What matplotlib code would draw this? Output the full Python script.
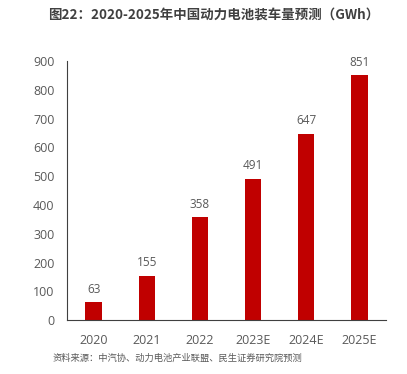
from matplotlib import pyplot as plt
import matplotlib

matplotlib.rcParams['font.family'] = ['Open Sans', 'Noto Sans CJK SC', 'DejaVu Sans']

years = ['2020', '2021', '2022', '2023E', '2024E', '2025E']
values = [63, 155, 358, 491, 647, 851]

fig = plt.figure(figsize=(4.07, 3.74), dpi=100)
ax = fig.add_axes([0.165, 0.144, 0.783, 0.693])

ax.bar(range(len(years)), values, width=0.31, color='#C00000')
for i, v in enumerate(values):
    ax.text(i, v + 22, str(v), ha='center', va='bottom', fontsize=8.5, color='#595959')

ax.set_xlim(-0.5, len(years) - 0.5)
ax.set_ylim(0, 900)
ax.set_yticks(range(0, 901, 100))
ax.set_xticks(range(len(years)))
ax.set_xticklabels(years)
ax.tick_params(axis='both', length=0, labelsize=9, labelcolor='#595959')
ax.tick_params(axis='x', pad=10)
ax.tick_params(axis='y', pad=9)

for s in ['top', 'right']:
    ax.spines[s].set_visible(False)
for s in ['left', 'bottom']:
    ax.spines[s].set_color('#404040')
    ax.spines[s].set_linewidth(0.8)

fig.text(0.525, 0.96, '图22：2020-2025年中国动力电池装车量预测（GWh）', ha='center', va='center',
         family=['Noto Sans CJK SC', 'DejaVu Sans'],
         fontsize=9.7, fontweight='bold', color='#404040')
fig.text(0.13, 0.043, '资料来源：中汽协、动力电池产业联盟、民生证券研究院预测', ha='left', va='center',
         family=['Noto Sans CJK SC', 'DejaVu Sans'],
         fontsize=6.7, color='#595959')

plt.savefig('out.png', dpi=100)
